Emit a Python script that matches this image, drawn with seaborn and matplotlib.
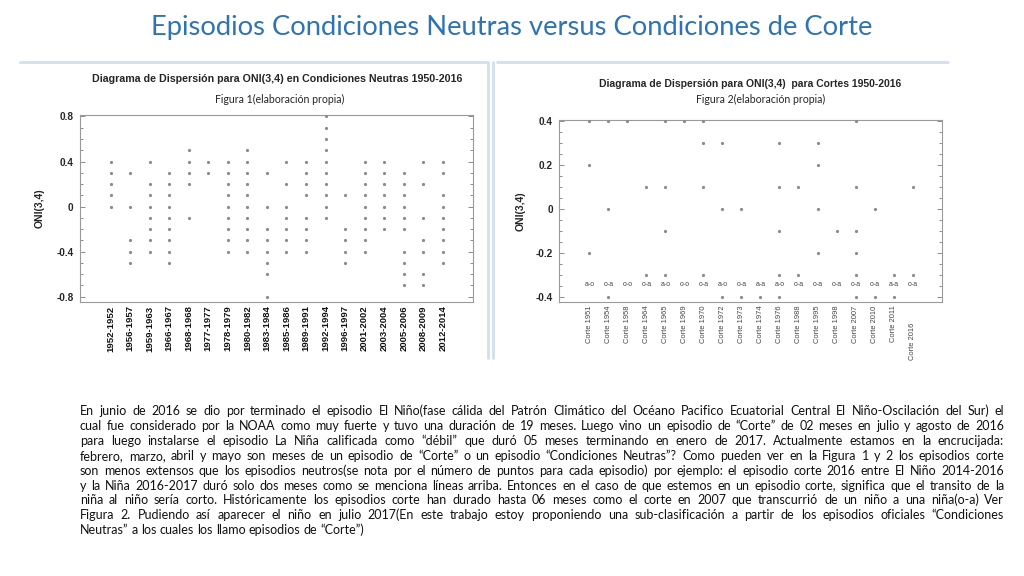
import matplotlib
matplotlib.use('Agg')
import matplotlib.pyplot as plt
import seaborn as sns
import pandas as pd
from matplotlib.ticker import MultipleLocator
from matplotlib.lines import Line2D
from matplotlib.transforms import ScaledTranslation

# Figura 1: episodios neutros y sus valores ONI(3,4)
neutral_episodes = ['1952-1952', '1956-1957', '1959-1963', '1966-1967', '1968-1968', '1977-1977',
                    '1978-1979', '1980-1982', '1983-1984', '1985-1986', '1989-1991', '1992-1994',
                    '1996-1997', '2001-2002', '2003-2004', '2005-2006', '2008-2009', '2012-2014']
neutral_values = [
    [0.4, 0.3, 0.2, 0.1, 0.0],
    [0.3, 0.0, -0.3, -0.4, -0.5],
    [0.4, 0.2, 0.1, 0.0, -0.1, -0.2, -0.3, -0.4],
    [0.3, 0.2, 0.1, 0.0, -0.1, -0.2, -0.3, -0.4, -0.5],
    [0.5, 0.4, 0.3, 0.2, -0.1],
    [0.4, 0.3],
    [0.4, 0.3, 0.2, 0.1, 0.0, -0.1, -0.2, -0.3, -0.4],
    [0.5, 0.4, 0.3, 0.2, 0.1, 0.0, -0.1, -0.2, -0.3, -0.4],
    [0.3, 0.0, -0.2, -0.3, -0.4, -0.5, -0.6, -0.8],
    [0.4, 0.2, 0.0, -0.1, -0.2, -0.3, -0.4],
    [0.4, 0.3, 0.2, 0.1, -0.1, -0.2, -0.3, -0.4],
    [0.8, 0.7, 0.6, 0.5, 0.4, 0.3, 0.2, 0.1, 0.0, -0.1],
    [0.1, -0.2, -0.3, -0.4, -0.5],
    [0.4, 0.3, 0.2, 0.1, 0.0, -0.1, -0.2, -0.3, -0.4],
    [0.4, 0.3, 0.2, 0.1, 0.0, -0.1, -0.2],
    [0.3, 0.2, 0.1, 0.0, -0.1, -0.2, -0.4, -0.5, -0.6, -0.7],
    [0.4, 0.2, -0.1, -0.3, -0.4, -0.6, -0.7],
    [0.4, 0.3, 0.1, 0.0, -0.1, -0.2, -0.3, -0.4, -0.5],
]
neutral_yticks = [-0.8, -0.4, 0.0, 0.4, 0.8]
neutral_yticklabels = ['-0.8', '-0.4', '0', '0.4', '0.8']

# Figura 2: episodios de corte
corte_episodes = ['Corte 1951', 'Corte 1954', 'Corte 1958', 'Corte 1964', 'Corte 1965', 'Corte 1969',
                  'Corte 1970', 'Corte 1972', 'Corte 1973', 'Corte 1974', 'Corte 1976', 'Corte 1988',
                  'Corte 1995', 'Corte 1998', 'Corte 2007', 'Corte 2010', 'Corte 2011', 'Corte 2016']
corte_values = [
    [0.4, 0.2, -0.2],
    [0.4, 0.0, -0.4],
    [0.4],
    [0.1, -0.3],
    [0.4, 0.1, -0.1, -0.3],
    [0.4],
    [0.4, 0.3, 0.1, -0.3],
    [0.3, 0.0, -0.4],
    [0.0, -0.4],
    [-0.4],
    [0.3, 0.1, -0.1, -0.3, -0.4],
    [0.1, -0.3],
    [0.3, 0.2, 0.0, -0.2],
    [-0.1],
    [0.4, 0.1, -0.1, -0.2, -0.3, -0.4],
    [0.0, -0.4],
    [-0.3, -0.4],
    [0.1, -0.3],
]
corte_transitions = ['a-o', 'o-a', 'o-o', 'o-a', 'a-o', 'o-o', 'o-a', 'a-o', 'o-a',
                     'a-a', 'a-o', 'o-a', 'o-a', 'o-a', 'o-a', 'o-a', 'a-a', 'o-a']
corte_yticks = [-0.4, -0.2, 0.0, 0.2, 0.4]
corte_yticklabels = ['-0.4', '-0.2', '0', '0.2', '0.4']

title = 'Episodios Condiciones Neutras versus Condiciones de Corte'
paragraph = [
    'En junio de 2016 se dio por terminado el episodio El Niño(fase cálida del Patrón Climático del Océano Pacifico Ecuatorial Central El Niño-Oscilación del Sur) el',
    'cual fue considerado por la NOAA como muy fuerte y tuvo una duración de 19 meses. Luego vino un episodio de “Corte” de 02 meses en julio y agosto de 2016',
    'para luego instalarse el episodio La Niña calificada como “débil” que duró 05 meses terminando en enero de 2017. Actualmente estamos en la encrucijada:',
    'febrero, marzo, abril y mayo son meses de un episodio de “Corte” o un episodio “Condiciones Neutras”? Como pueden ver en la Figura 1 y 2 los episodios corte',
    'son menos extensos que los episodios neutros(se nota por el número de puntos para cada episodio) por ejemplo: el episodio corte 2016 entre El Niño 2014-2016',
    'y la Niña 2016-2017 duró solo dos meses como se menciona líneas arriba. Entonces en el caso de que estemos en un episodio corte, significa que el transito de la',
    'niña al niño sería corto. Históricamente los episodios corte han durado hasta 06 meses como el corte en 2007 que transcurrió de un niño a una niña(o-a) Ver',
    'Figura 2. Pudiendo así aparecer el niño en julio 2017(En este trabajo estoy proponiendo una sub-clasificación a partir de los episodios oficiales “Condiciones',
    'Neutras”  a los cuales los llamo episodios de “Corte”)',
]

sns.set_style('white')
plt.rcParams['font.family'] = ['Liberation Sans', 'DejaVu Sans']
plt.rcParams['axes.unicode_minus'] = False

W, H = 1024, 576
fig = plt.figure(figsize=(W / 100, H / 100), dpi=100)


def fx(px):
    return px / W


def fy(py):
    return 1 - py / H


def long_form(episodes, values):
    rows = [(e, v) for e, vals in zip(episodes, values) for v in vals]
    return pd.DataFrame(rows, columns=['episodio', 'oni'])


DOT = '#8a8a96'
GRID = '#8c8c8c'

ax1 = fig.add_axes([fx(80), fy(302), (473 - 80) / W, (302 - 115) / H])
ax2 = fig.add_axes([fx(559), fy(302), (942 - 559) / W, (302 - 119.5) / H])

sns.stripplot(data=long_form(neutral_episodes, neutral_values), x='episodio', y='oni',
              order=neutral_episodes, jitter=False, size=2.3, color=DOT, linewidth=0, ax=ax1)
sns.stripplot(data=long_form(corte_episodes, corte_values), x='episodio', y='oni',
              order=corte_episodes, jitter=False, size=2.3, color=DOT, linewidth=0, ax=ax2)


def style(ax, xlim, ylim, yticks, yticklabels, minor, xlabels, xfs, xweight, xcolor):
    ax.set_xlim(*xlim)
    ax.set_ylim(*ylim)
    ax.set_yticks(yticks)
    ax.set_yticklabels(yticklabels, fontsize=7.2, fontweight='bold')
    ax.yaxis.set_minor_locator(MultipleLocator(minor))
    ax.tick_params(axis='y', which='both', direction='in', left=True, right=True,
                   color=GRID, width=0.7, pad=4.5)
    ax.tick_params(axis='y', which='major', length=3.8)
    ax.tick_params(axis='y', which='minor', length=2.3)
    ax.set_xticks(range(len(xlabels)))
    ax.set_xticklabels(xlabels, rotation=90, fontsize=xfs, fontweight=xweight, color=xcolor)
    ax.tick_params(axis='x', length=0, pad=2.5)
    for s in ax.spines.values():
        s.set_color('#9a9a9a')
        s.set_linewidth(0.8)
    ax.set_xlabel('')
    ax.set_ylabel('ONI(3,4)', fontsize=7.5, fontweight='bold')


style(ax1, (-1.57, 18.55), (-0.847, 0.813), neutral_yticks, neutral_yticklabels, 0.1,
      neutral_episodes, 6.8, 'bold', '#111111')
style(ax2, (-1.6, 18.55), (-0.424, 0.408), corte_yticks, corte_yticklabels, 0.05,
      corte_episodes, 5.4, 'normal', '#444444')
ax1.yaxis.set_label_coords(-0.09, 0.5)
ax2.yaxis.set_label_coords(-0.088, 0.5)

# last cut label sits lower in the original
last = ax2.get_xticklabels()[-1]
last.set_transform(last.get_transform() + ScaledTranslation(0, -17 / 100, fig.dpi_scale_trans))

LABEL_Y = -0.345
for i, t in enumerate(corte_transitions):
    ax2.text(i, LABEL_Y, t, ha='center', va='center', fontsize=5, color='#444444')

# panel headers
fig.text(fx(277), fy(79), 'Diagrama de Dispersión para ONI(3,4) en Condiciones Neutras 1950-2016',
         ha='center', va='center', fontsize=7.65, fontweight='bold')
fig.text(fx(750), fy(84), 'Diagrama de Dispersión para ONI(3,4)  para Cortes 1950-2016',
         ha='center', va='center', fontsize=7.5, fontweight='bold')
fig.text(fx(280), fy(99), 'Figura 1(elaboración propia)', ha='center', va='center',
         fontsize=7.6, family=['Lato', 'DejaVu Sans'])
fig.text(fx(761), fy(99), 'Figura 2(elaboración propia)', ha='center', va='center',
         fontsize=7.6, family=['Lato', 'DejaVu Sans'])

# panel frames (light blue shadow)
FRAME = '#d2dfee'
for xs, ys in [([20, 487], [62, 62]), ([488, 488], [62, 358]),
               ([497, 948], [62, 62]), ([493, 493], [62, 358])]:
    fig.add_artist(Line2D([fx(x) for x in xs], [fy(y) for y in ys], color=FRAME, lw=2.0,
                          transform=fig.transFigure))

fig.text(0.5, fy(28), title, ha='center', va='center', fontsize=19.7, color='#2E74B5',
         family=['Lato', 'DejaVu Sans'])

# justified paragraph
renderer = fig.canvas.get_renderer()
PFS = 9.0
PFAM = ['Lato', 'DejaVu Sans']


def text_width(s):
    t = fig.text(0, 0, s, fontsize=PFS, family=PFAM)
    w = t.get_window_extent(renderer).width
    t.remove()
    return w


space = text_width('a a') - text_width('aa')
x0, x1, y0, dy = 80, 1004, 415, 14.9
for i, line in enumerate(paragraph):
    words = line.split()
    widths = [text_width(w) for w in words]
    if i == len(paragraph) - 1:
        gap = space
    else:
        gap = (x1 - x0 - sum(widths)) / (len(words) - 1)
    x = x0
    for w, wd in zip(words, widths):
        fig.text(fx(x), fy(y0 + i * dy), w, ha='left', va='baseline', fontsize=PFS,
                 family=PFAM, color='#111111')
        x += wd + gap

fig.savefig('out.png', dpi=100, facecolor='white')
